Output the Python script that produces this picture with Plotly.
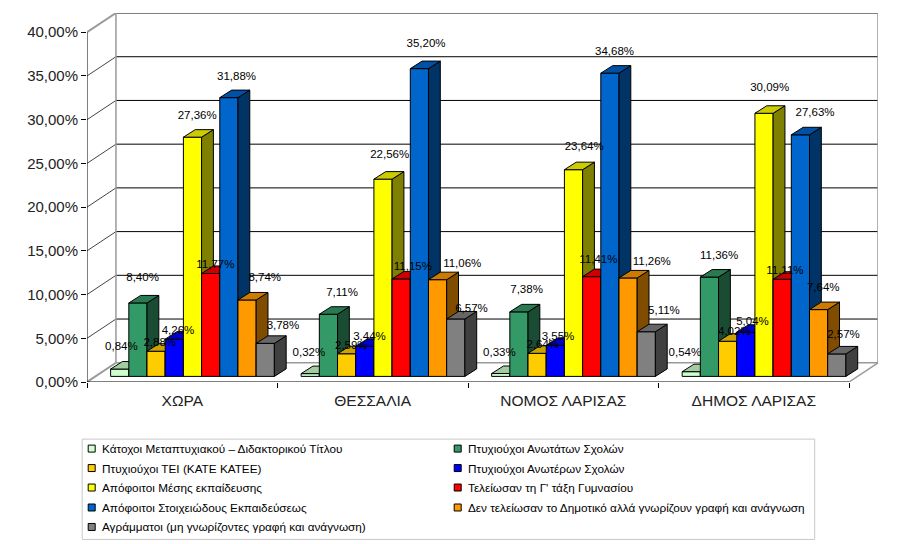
import plotly.graph_objects as go

categories = ["ΧΩΡΑ", "ΘΕΣΣΑΛΙΑ", "ΝΟΜΟΣ ΛΑΡΙΣΑΣ", "ΔΗΜΟΣ ΛΑΡΙΣΑΣ"]
series_names = [
    "Κάτοχοι Μεταπτυχιακού – Διδακτορικού Τίτλου",
    "Πτυχιούχοι Ανωτάτων Σχολών",
    "Πτυχιούχοι ΤΕΙ (ΚΑΤΕ ΚΑΤΕΕ)",
    "Πτυχιούχοι Ανωτέρων Σχολών",
    "Απόφοιτοι Μέσης εκπαίδευσης",
    "Τελείωσαν τη Γ' τάξη Γυμνασίου",
    "Απόφοιτοι Στοιχειώδους Εκπαιδεύσεως",
    "Δεν τελείωσαν το Δημοτικό αλλά γνωρίζουν γραφή και ανάγνωση",
    "Αγράμματοι (μη γνωρίζοντες γραφή και ανάγνωση)",
]
metapt = [0.84, 0.32, 0.33, 0.54]
anotata = [8.40, 7.11, 7.38, 11.36]
tei = [2.88, 2.59, 2.64, 4.02]
anotera = [4.26, 3.44, 3.55, 5.04]
mesi = [27.36, 22.56, 23.64, 30.09]
gymnasio = [11.77, 11.15, 11.41, 11.11]
stoixeiodis = [31.88, 35.20, 34.68, 27.63]
den_dimotiko = [8.74, 11.06, 11.26, 7.64]
agrammatoi = [3.78, 6.57, 5.11, 2.57]
values = [metapt, anotata, tei, anotera, mesi, gymnasio, stoixeiodis, den_dimotiko, agrammatoi]
colors = ["#CCFFCC", "#339966", "#FFCC00", "#0000FF", "#FFFF00", "#FF0000", "#0066CC", "#FF9900", "#808080"]
y_ticks = [0, 5, 10, 15, 20, 25, 30, 35, 40]

# pixel frame of the plot area
L, R, T, B = 87.3, 878.3, 12.7, 382.3
W, H = 898, 544
DX, DY = 0.152, 2.2          # depth of the chart box in axis units
XMAX, YMAX = 4 + DX, 40 + DY
BW = 0.0955                  # bar width
START = 0.124                # first bar left edge inside a category
BASE = 0.64                  # bars stand slightly inside the floor
BDX, BDY = 0.062, 0.86       # depth of a bar

# hand placement of the data labels in the original (pixels; per series, per category)
label_nudge_x = [[-5, -8, -8, -13], [-2, 7, 1, 3], [-3, -2, -1, 0], [-3, -2, -4, 0], [-2, 0, 4, -1],
                 [-2, 5, 0, -4], [1, 0, -2, 8], [11, 18, 17, -2], [11, 9, 11, 0]]
label_nudge_y = [[-1, 1, 1, 3], [-3, 0, 0, 0], [13, 14, 13, 12], [13, 12, 13, 11], [0, -3, -1, -4],
                 [13, 10, 5, 13], [1, -3, 0, 0], [0, 6, 6, 0], [4, 12, 1, 3]]


def shade(hex_color, k):
    r, g, b = (int(hex_color[i:i + 2], 16) for i in (1, 3, 5))
    return f"rgb({int(r * k)},{int(g * k)},{int(b * k)})"


def label(v):
    return f"{v:.2f}".replace(".", ",") + "%"


def px(x):
    return (x - L) / (R - L)


def py(y):
    return (B - y) / (B - T)


fig = go.Figure()

# box: back wall grid, side wall diagonals, floor
for v in y_ticks:
    if v > 0:
        fig.add_trace(go.Scatter(x=[DX, 4 + DX], y=[v + DY, v + DY], mode="lines",
                                 line=dict(color="#000000", width=1), hoverinfo="skip", showlegend=False))
    fig.add_trace(go.Scatter(x=[0, DX], y=[v, v + DY], mode="lines",
                             line=dict(color="#999999" if v in (0, 40) else "#444444", width=2 if v in (0, 40) else 1),
                             hoverinfo="skip", showlegend=False))
for xs, ys in ([[DX, DX], [DY, 40 + DY]], [[DX, 4 + DX], [DY, DY]], [[4 + DX, 4 + DX], [DY, 40 + DY]], [[4, 4 + DX], [0, DY]]):
    fig.add_trace(go.Scatter(x=xs, y=ys, mode="lines", line=dict(color="#999999", width=1.5),
                             hoverinfo="skip", showlegend=False))
fig.add_trace(go.Scatter(x=[0, 0, 4], y=[40, 0, 0], mode="lines", line=dict(color="#000000", width=1),
                         hoverinfo="skip", showlegend=False))

# one overlaid subplot per series, so that each bar paints over the previous one
for j, (name, vals, col) in enumerate(zip(series_names, values, colors)):
    n = j + 2
    xa, ya = f"x{n}", f"y{n}"
    fig.update_layout({
        f"xaxis{n}": dict(overlaying="x", range=[0, XMAX], visible=False, fixedrange=True),
        f"yaxis{n}": dict(overlaying="y", range=[0, YMAX], visible=False, fixedrange=True),
    })
    lefts = [i + START + j * BW for i in range(len(categories))]
    for x0, v in zip(lefts, vals):
        x1 = x0 + BW
        top = BASE + v
        fig.add_trace(go.Scatter(x=[x1, x1 + BDX, x1 + BDX, x1, x1], y=[BASE, BASE + BDY, top + BDY, top, BASE],
                                 mode="lines", fill="toself", fillcolor=shade(col, 0.5),
                                 line=dict(color="#000000", width=1), xaxis=xa, yaxis=ya,
                                 hoverinfo="skip", showlegend=False))
        fig.add_trace(go.Scatter(x=[x0, x1, x1 + BDX, x0 + BDX, x0], y=[top, top, top + BDY, top + BDY, top],
                                 mode="lines", fill="toself", fillcolor=shade(col, 0.8),
                                 line=dict(color="#000000", width=1), xaxis=xa, yaxis=ya,
                                 hoverinfo="skip", showlegend=False))
    fig.add_trace(go.Bar(x=[x + BW / 2 for x in lefts], y=vals, base=BASE, width=BW, name=name,
                         marker=dict(color=col, line=dict(color="#000000", width=1)),
                         xaxis=xa, yaxis=ya, showlegend=False))

# data labels above everything
n = len(values) + 2
fig.update_layout({
    f"xaxis{n}": dict(overlaying="x", range=[0, XMAX], visible=False, fixedrange=True),
    f"yaxis{n}": dict(overlaying="y", range=[0, YMAX], visible=False, fixedrange=True),
})
x_per_px = XMAX / (R - L)
y_per_px = YMAX / (B - T)
lx, ly, lt = [], [], []
for j, vals in enumerate(values):
    for i, v in enumerate(vals):
        lx.append(i + START + j * BW + BW / 2 + 0.035 + label_nudge_x[j][i] * x_per_px)
        ly.append(v + BASE + 2.45 - label_nudge_y[j][i] * y_per_px)
        lt.append(label(v))
fig.add_trace(go.Scatter(x=lx, y=ly, text=lt, mode="text", textposition="middle center",
                         textfont=dict(family="Liberation Sans", size=11.5, color="#000000"),
                         xaxis=f"x{n}", yaxis=f"y{n}", hoverinfo="skip", showlegend=False, cliponaxis=False))

# legend box (two columns, row by row)
shapes = [dict(type="rect", xref="paper", yref="paper", x0=px(82.5), x1=px(815), y0=py(439.5), y1=py(540),
               line=dict(color="#C8C8C8", width=1), fillcolor="#FFFFFF")]
annotations = []
rows = [449, 468.5, 488, 508, 527.5]
for j, (name, col) in enumerate(zip(series_names, colors)):
    mx = 92 if j % 2 == 0 else 458
    y = rows[j // 2]
    shapes.append(dict(type="rect", xref="paper", yref="paper", x0=px(mx - 3.5), x1=px(mx + 3.5),
                       y0=py(y - 3.5), y1=py(y + 3.5), fillcolor=col, line=dict(color="#000000", width=1)))
    annotations.append(dict(xref="paper", yref="paper", x=px(mx + 8), y=py(y), xanchor="left", yanchor="middle",
                            text=name, showarrow=False,
                            font=dict(family="Liberation Sans", size=11.75, color="#000000")))

fig.update_layout(
    width=W, height=H, autosize=False,
    margin=dict(l=L, r=W - R, t=T, b=H - B, pad=0),
    paper_bgcolor="#FFFFFF", plot_bgcolor="#FFFFFF",
    showlegend=False,
    barmode="overlay",
    shapes=shapes, annotations=annotations,
    xaxis=dict(range=[0, XMAX], tickvals=[i + 0.5 for i in range(4)], ticktext=categories, ticks="",
               showgrid=False, zeroline=False, showline=False, fixedrange=True,
               tickfont=dict(family="Liberation Sans", size=15.5, color="#222222"),
               ticklabelstandoff=7,
               minor=dict(tickvals=[0, 1, 2, 3, 4], ticks="outside", ticklen=5, tickcolor="#000000", showgrid=False)),
    yaxis=dict(range=[0, YMAX], tickvals=y_ticks, ticktext=[label(v) for v in y_ticks],
               ticks="outside", ticklen=5, tickcolor="#000000",
               showgrid=False, zeroline=False, showline=False, fixedrange=True,
               tickfont=dict(family="Liberation Sans", size=15, color="#222222")),
)

fig.write_html("out.html", config={"displayModeBar": False}, post_script="document.body.style.margin='0';")
